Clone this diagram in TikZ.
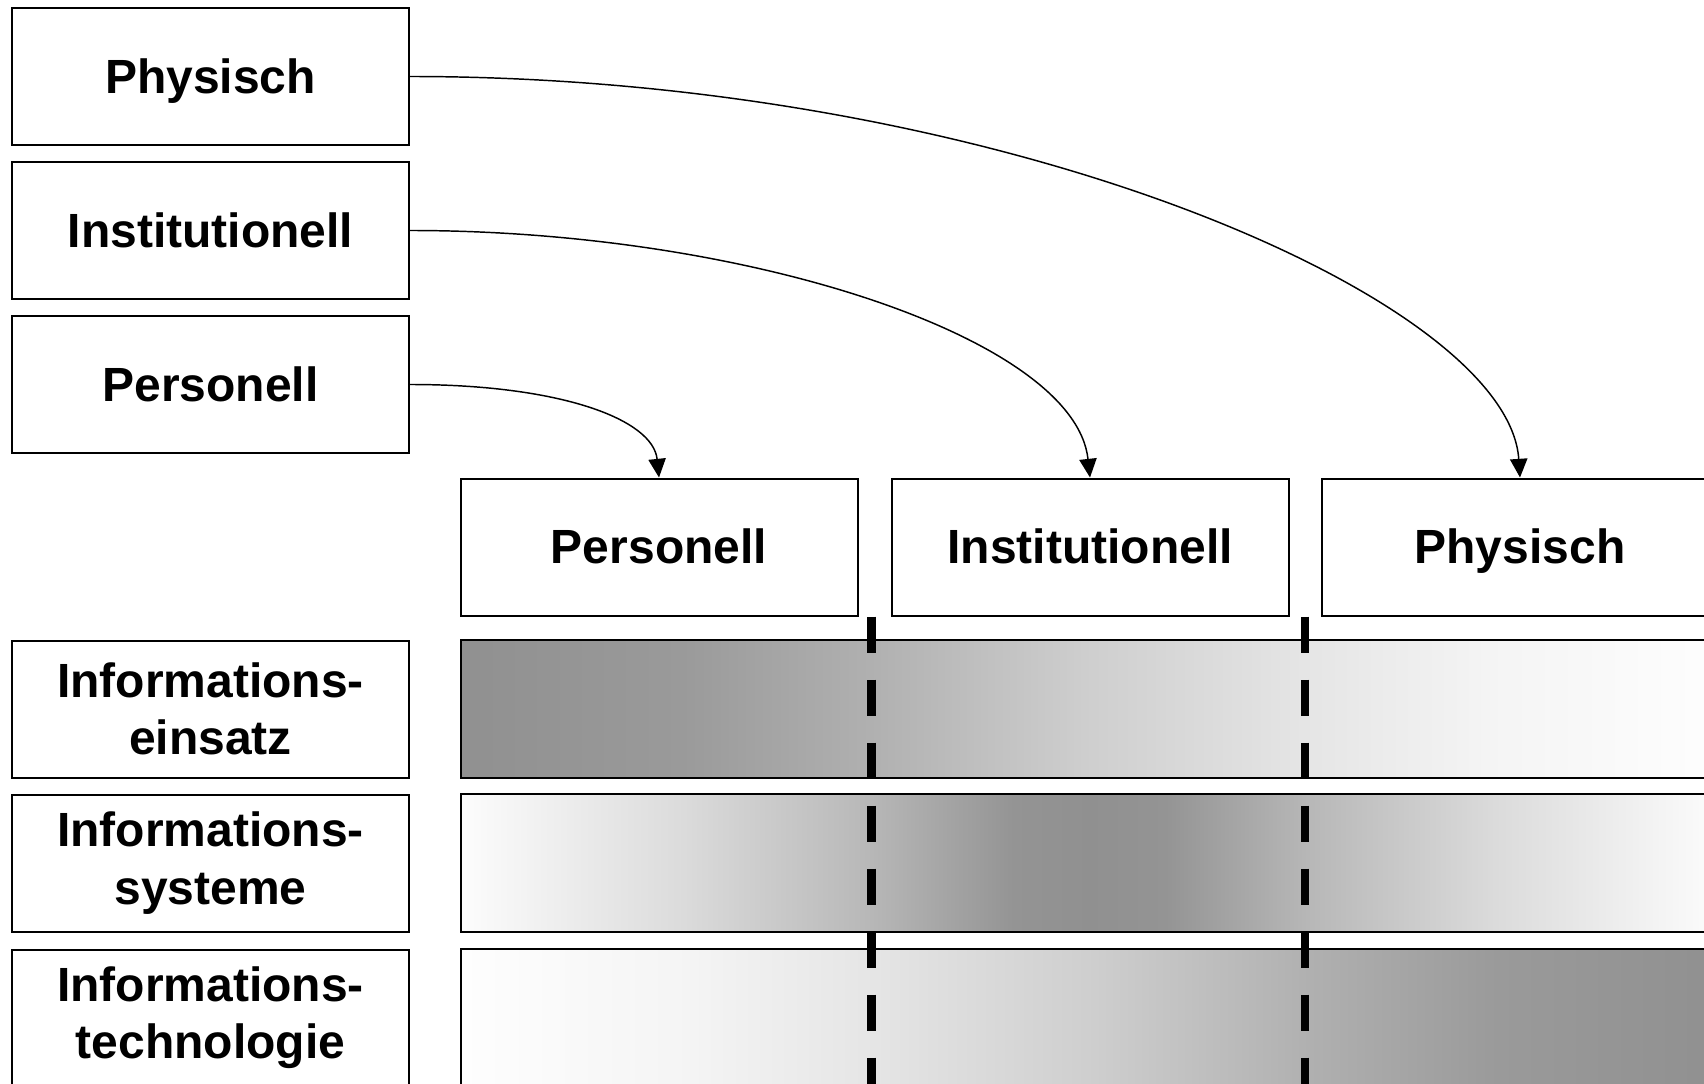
\documentclass[tikz,border=0pt]{standalone}
\usepackage{fontspec}
\setmainfont{Liberation Sans}
\usetikzlibrary{arrows.meta,calc}

\definecolor{barGray}{RGB}{144,144,144}

% dark -> light, light -> dark -> light, light -> dark
\pgfdeclarehorizontalshading{fadeOut}{100bp}{rgb(0bp)=(0.565,0.565,0.565); rgb(25bp)=(0.565,0.565,0.565);
  rgb(33.8bp)=(0.604,0.604,0.604); rgb(41.25bp)=(0.690,0.690,0.690); rgb(49.8bp)=(0.808,0.808,0.808);
  rgb(58.5bp)=(0.898,0.898,0.898); rgb(65.8bp)=(0.957,0.957,0.957); rgb(75bp)=(0.996,0.996,0.996); rgb(100bp)=(1,1,1)}
\pgfdeclarehorizontalshading{fadeMid}{100bp}{rgb(0bp)=(1,1,1); rgb(25bp)=(0.99,0.99,0.99);
  rgb(33.8bp)=(0.86,0.86,0.86); rgb(41.25bp)=(0.72,0.72,0.72); rgb(47bp)=(0.58,0.58,0.58);
  rgb(50bp)=(0.565,0.565,0.565); rgb(53bp)=(0.58,0.58,0.58); rgb(58.75bp)=(0.72,0.72,0.72);
  rgb(66.2bp)=(0.86,0.86,0.86); rgb(75bp)=(0.99,0.99,0.99); rgb(100bp)=(1,1,1)}
\pgfdeclarehorizontalshading{fadeIn}{100bp}{rgb(0bp)=(1,1,1); rgb(25bp)=(0.996,0.996,0.996);
  rgb(34.2bp)=(0.957,0.957,0.957); rgb(41.5bp)=(0.898,0.898,0.898); rgb(50.2bp)=(0.808,0.808,0.808);
  rgb(58.75bp)=(0.690,0.690,0.690); rgb(66.2bp)=(0.604,0.604,0.604); rgb(75bp)=(0.565,0.565,0.565); rgb(100bp)=(0.565,0.565,0.565)}

\tikzset{every picture/.style={line width=0.75pt}}
\tikzset{
  box/.style={draw=black, line width=1.5pt, fill=white, minimum width=297.75pt, minimum height=102.75pt,
    inner sep=0pt, align=center, font=\fontsize{36}{43}\selectfont\bfseries},
  head/.style={box, text height=25.8pt, text depth=0.5pt},
  bar/.style={draw=black, line width=1.5pt, minimum width=943.5pt, minimum height=103.5pt, inner sep=0pt, shading angle=0},
  link/.style={line width=1.1pt, -{Triangle[length=14pt,width=13pt]}},
  divider/.style={line width=6.5pt, dash pattern=on 27pt off 20.25pt}
}

\begin{document}
\begin{tikzpicture}[x=0.75pt,y=0.75pt,yscale=-1,xscale=1]
\useasboundingbox (0,0) rectangle (1704,1084);

% Source boxes
\node[head] (phys) at (210.5,76.5) {Physisch};
\node[head] (inst) at (210.5,230.5) {Institutionell};
\node[head] (pers) at (210.5,384.5) {Personell};

% Column heads
\node[head] (colPers) at (659,547) {Personell};
\node[head] (colInst) at (1090,547) {Institutionell};
\node[head] (colPhys) at (1520,547) {Physisch};

% Row labels
\node[box] (einsatz) at (210.5,709) {Informations-\\einsatz};
\node[box] (systeme) at (210.5,863) {Informations-\\systeme};
\node[box] (technologie) at (210.5,1018) {Informations-\\technologie};

% Shaded bars
\node[bar, shading=fadeOut] (barEinsatz) at (1089.5,709) {};
\node[bar, shading=fadeMid] (barSysteme) at (1089.5,863) {};
\node[bar, shading=fadeIn] (barTechnologie) at (1089.5,1018) {};

% Dividers
\coordinate (d1) at ($(colPers.south east)!0.5!(colInst.south west)+(-3,0)$);
\coordinate (d2) at ($(colInst.south east)!0.5!(colPhys.south west)$);
\draw[divider] (d1) -- (d1 |- 0,1100);
\draw[divider] (d2) -- (d2 |- 0,1100);

% Curved arrows
\draw[link] (phys.east) .. controls +(591,0) and +(-12,-178) .. (colPhys.north);
\draw[link] (inst.east) .. controls +(341,0) and +(-15,-138) .. (colInst.north);
\draw[link] (pers.east) .. controls +(151,0) and +(-6,-58) .. (colPers.north);

\end{tikzpicture}
\end{document}
